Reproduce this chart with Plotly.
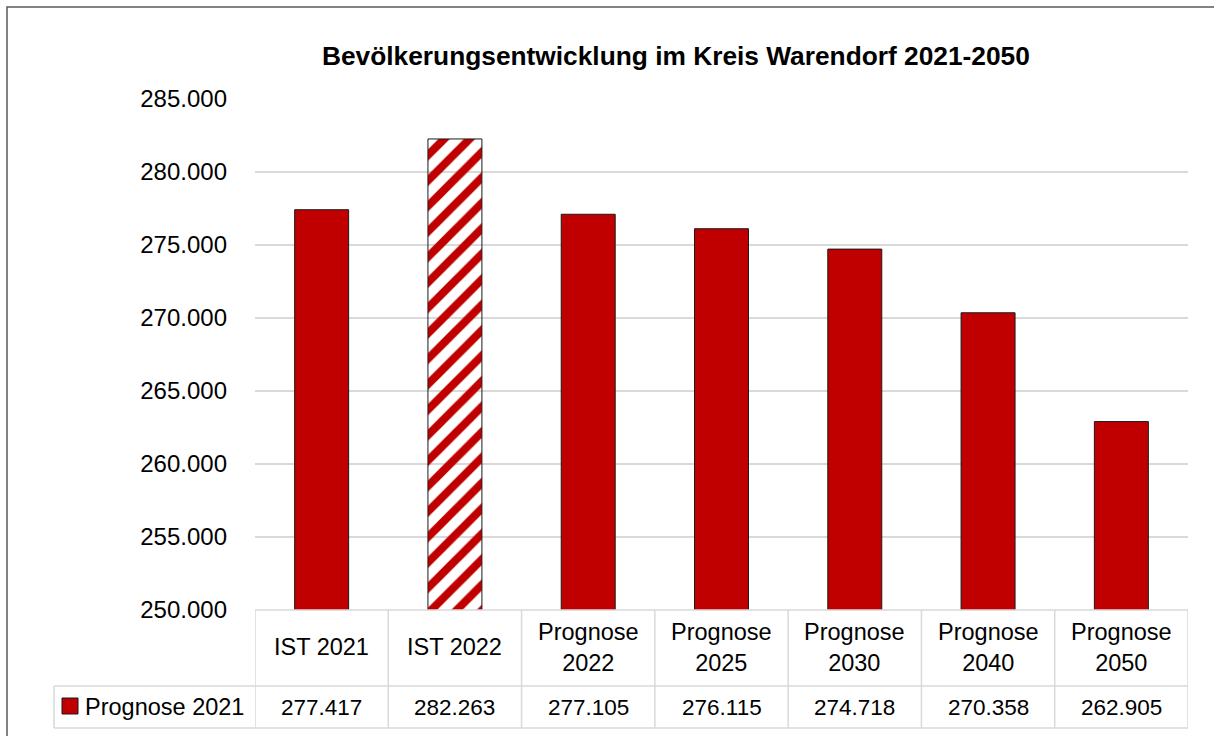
import plotly.graph_objects as go

categories = ["IST 2021", "IST 2022", "Prognose<br>2022", "Prognose<br>2025",
              "Prognose<br>2030", "Prognose<br>2040", "Prognose<br>2050"]
values = [277417, 282263, 277105, 276115, 274718, 270358, 262905]
hatched = [False, True, False, False, False, False, False]
series_name = "Prognose 2021"
title_text = "Bevölkerungsentwicklung im Kreis Warendorf 2021-2050"
y_ticks = [250000, 255000, 260000, 265000, 270000, 275000, 280000, 285000]

RED = "#C00000"
GRID = "#D9D9D9"
FONT = "Liberation Sans, Arial, sans-serif"
TXT = 23.5

W, H = 1214, 736
L, R, T, B = 255, 26, 99, 126
PW, PH = W - L - R, H - T - B


def py(pix):  # pixel y -> paper y
    return (H - B - pix) / PH


def px(pix):  # pixel x -> paper x
    return (pix - L) / PW


def de(v):
    return f"{v:,}".replace(",", ".")


n = len(categories)
xs = list(range(n))

fig = go.Figure()
fig.add_trace(go.Bar(
    x=xs, y=values, width=0.405, name=series_name,
    marker=dict(
        color=[RED] * n,
        line=dict(color="#1a1a1a", width=1),
        pattern=dict(shape=["/" if h else "" for h in hatched],
                     fgcolor=[RED] * n,
                     bgcolor=["white" if h else RED for h in hatched],
                     fgopacity=1, size=18, solidity=0.45,
                     fillmode="replace"),
    ),
    showlegend=False,
    hoverinfo="skip",
))

shapes = []
# outer chart border
shapes.append(dict(type="rect", xref="paper", yref="paper",
                   x0=px(7), x1=px(1230), y0=py(750), y1=py(7),
                   line=dict(color="#595959", width=1.5), layer="below"))
# table lines
y_top, y_mid, y_bot = py(610), py(686), py(728)
shapes.append(dict(type="line", xref="paper", yref="paper", x0=0, x1=1,
                   y0=y_top, y1=y_top, line=dict(color=GRID, width=1.5)))
for yy in (y_mid, y_bot):
    shapes.append(dict(type="line", xref="paper", yref="paper", x0=px(54), x1=1,
                       y0=yy, y1=yy, line=dict(color=GRID, width=1.5)))
shapes.append(dict(type="line", xref="paper", yref="paper", x0=px(54), x1=px(54),
                   y0=y_mid, y1=y_bot, line=dict(color=GRID, width=1.5)))
for i in range(n + 1):
    shapes.append(dict(type="line", xref="x", yref="paper", x0=i - 0.5, x1=i - 0.5,
                       y0=y_top, y1=y_bot, line=dict(color=GRID, width=1.5)))
# legend key
shapes.append(dict(type="rect", xref="paper", yref="paper",
                   x0=px(62), x1=px(78), y0=py(714), y1=py(698),
                   fillcolor=RED, line=dict(color="#1a1a1a", width=1)))

annotations = []
annotations.append(dict(text=f"<b>{title_text}</b>", xref="paper", yref="paper",
                        x=px(676), y=py(56), showarrow=False,
                        font=dict(family=FONT, size=26.3, color="black"),
                        xanchor="center", yanchor="middle"))
for i, (c, v) in enumerate(zip(categories, values)):
    annotations.append(dict(text=c, xref="x", yref="paper", x=i, y=py(647),
                            showarrow=False, xanchor="center", yanchor="middle",
                            font=dict(family=FONT, size=TXT, color="black")))
    annotations.append(dict(text=de(v), xref="x", yref="paper", x=i, y=py(707),
                            showarrow=False, xanchor="center", yanchor="middle",
                            font=dict(family=FONT, size=TXT - 1, color="black")))
annotations.append(dict(text=series_name, xref="paper", yref="paper", x=px(83), y=py(707),
                        showarrow=False, xanchor="left", yanchor="middle",
                        font=dict(family=FONT, size=TXT, color="black")))

fig.update_layout(
    width=W, height=H, autosize=False,
    margin=dict(l=L, r=R, t=T, b=B, pad=0),
    paper_bgcolor="white", plot_bgcolor="white",
    separators=",.",
    font=dict(family=FONT, size=20, color="black"),
    xaxis=dict(range=[-0.5, n - 0.5], showticklabels=False, showgrid=False,
               zeroline=False, showline=False, fixedrange=True),
    yaxis=dict(range=[250000, 285000], tickvals=y_ticks, ticktext=[de(t) for t in y_ticks],
               showgrid=True, gridcolor=GRID, gridwidth=1.5, zeroline=False,
               showline=False, ticks="", ticklabelstandoff=27,
               tickfont=dict(family=FONT, size=24, color="black")),
    shapes=shapes, annotations=annotations,
)

fig.write_html("out.html", config={"displayModeBar": False},
               post_script="document.body.style.margin='0';")
